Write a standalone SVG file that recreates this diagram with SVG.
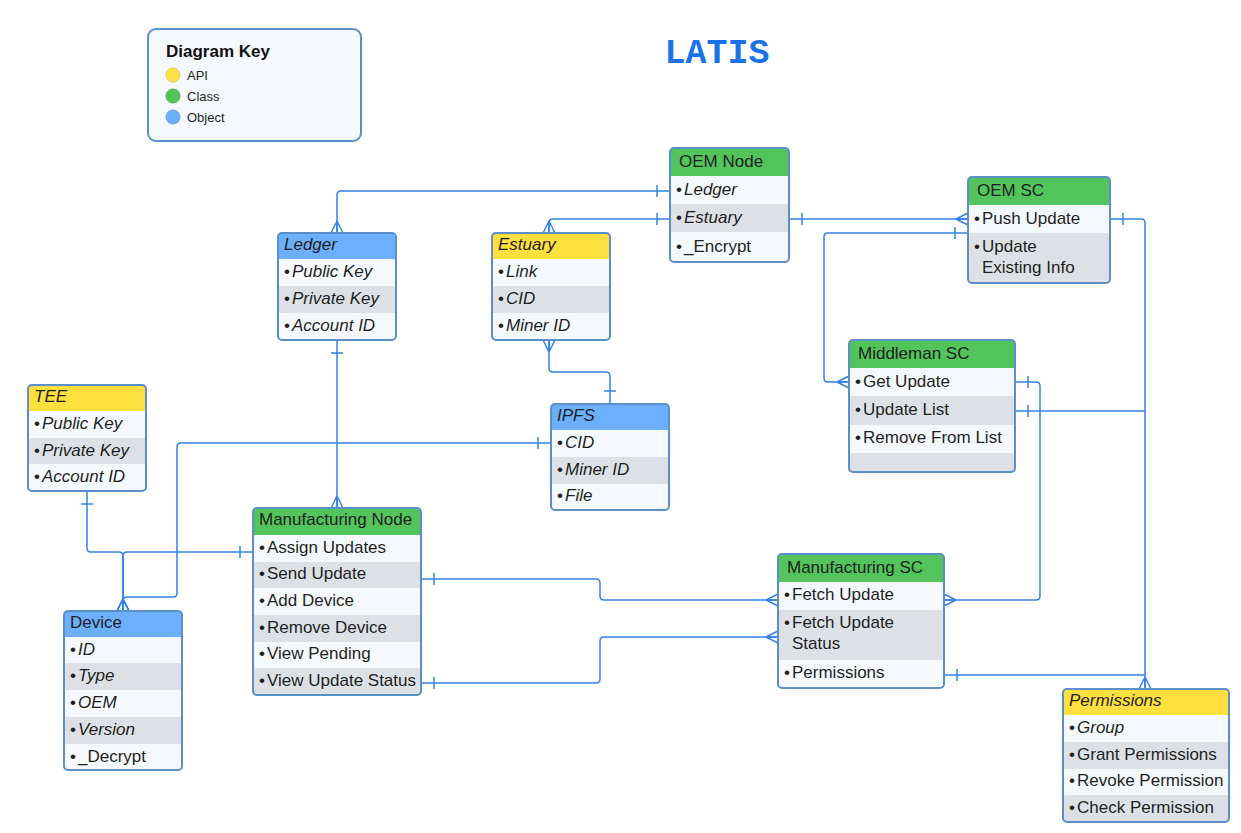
<svg xmlns="http://www.w3.org/2000/svg" width="1241" height="833" viewBox="0 0 1241 833">
<style>
.bg{fill:#ffffff}
.body{fill:#f5f9fd}
.gray{fill:#dde1e5}
.hg{fill:#53c35b}
.hb{fill:#6caffc}
.hy{fill:#ffe03f}
.outline{fill:none;stroke:#5b8fc9;stroke-width:2}
.t{font-family:"Liberation Sans",Arial,sans-serif;font-size:17px;fill:#1f1f1f}
.i{font-style:italic}
.conn{fill:none;stroke:#3282e6;stroke-width:1.5}
.key{font-family:"Liberation Sans",Arial,sans-serif;font-size:13px;fill:#1f1f1f}
</style>
<defs>
<marker id="many" viewBox="-14 -8 16 16" refX="0" refY="0" markerWidth="16" markerHeight="16" markerUnits="userSpaceOnUse" orient="auto-start-reverse"><path d="M-12,0 L0,-6 M-12,0 L0,6 M-12,0 L0,0" fill="none" stroke="#3282e6" stroke-width="1.5"/></marker>
<marker id="one" viewBox="-16 -8 18 16" refX="0" refY="0" markerWidth="18" markerHeight="16" markerUnits="userSpaceOnUse" orient="auto-start-reverse"><path d="M-13,-6 L-13,6" fill="none" stroke="#3282e6" stroke-width="1.5"/></marker>
</defs>
<rect class="bg" x="0" y="0" width="1241" height="833"/>

<g id="key">
<rect x="148" y="29" width="213" height="112" rx="8" fill="#f5f9fd" stroke="#5b8fc9" stroke-width="2"/>
<text x="166" y="57" font-family="Liberation Sans,Arial,sans-serif" font-size="17" font-weight="bold" fill="#111">Diagram Key</text>
<circle cx="173" cy="75" r="7" fill="#ffe04a" stroke="#f0cf3a" stroke-width="1"/>
<circle cx="173" cy="96" r="7" fill="#53c35b" stroke="#4ab352" stroke-width="1"/>
<circle cx="173" cy="117" r="7" fill="#6caffc" stroke="#62a3ee" stroke-width="1"/>
<text class="key" x="187" y="80">API</text>
<text class="key" x="187" y="101">Class</text>
<text class="key" x="187" y="122">Object</text>
</g>

<g id="title">
<text x="717" y="63" text-anchor="middle" font-family="Liberation Mono,monospace" font-size="35" font-weight="bold" fill="#1a73e8">LATIS</text>
</g>

<g id="connectors">
<path class="conn" d="M670,191 H341 Q337,191 337,195 V233" marker-start="url(#one)" marker-end="url(#many)"/>
<path class="conn" d="M670,219 H553 Q549,219 549,223 V233" marker-start="url(#one)" marker-end="url(#many)"/>
<path class="conn" d="M789,219 H968" marker-start="url(#one)" marker-end="url(#many)"/>
<path class="conn" d="M968,233 H828 Q824,233 824,237 V378 Q824,382 828,382 H849" marker-start="url(#one)" marker-end="url(#many)"/>
<path class="conn" d="M1110,219 H1141 Q1145,219 1145,223 V689" marker-start="url(#one)" marker-end="url(#many)"/>
<path class="conn" d="M1015,411 H1145" marker-start="url(#one)"/>
<path class="conn" d="M944,675 H1145" marker-start="url(#one)"/>
<path class="conn" d="M1015,382 H1036 Q1040,382 1040,386 V596 Q1040,600 1036,600 H944" marker-start="url(#one)" marker-end="url(#many)"/>
<path class="conn" d="M421,579 H596 Q600,579 600,583 V596 Q600,600 604,600 H778" marker-start="url(#one)" marker-end="url(#many)"/>
<path class="conn" d="M421,683 H596 Q600,683 600,679 V641 Q600,637 604,637 H778" marker-start="url(#one)" marker-end="url(#many)"/>
<path class="conn" d="M337,340 V508" marker-start="url(#one)" marker-end="url(#many)"/>
<path class="conn" d="M549,340 V368 Q549,372 553,372 H606 Q610,372 610,376 V404" marker-start="url(#many)" marker-end="url(#one)"/>
<path class="conn" d="M551,443 H181 Q177,443 177,447 V593 Q177,597 173,597 H127 Q123,597 123,601 V611" marker-start="url(#one)" marker-end="url(#many)"/>
<path class="conn" d="M87,491 V548 Q87,552 91,552 H119 Q123,552 123,556 V611" marker-start="url(#one)" marker-end="url(#many)"/>
<path class="conn" d="M253,552 H127 Q123,552 123,556 V611" marker-start="url(#one)" marker-end="url(#many)"/>
</g>

<g id="oem-node">
<rect class="body" x="670" y="148" width="119" height="114" rx="4"/>
<path class="hg" d="M670,176 V152 Q670,148 674,148 H785 Q789,148 789,152 V176 Z"/>
<rect class="gray" x="671" y="204" width="117" height="28"/>
<rect class="outline" x="670" y="148" width="119" height="114" rx="4"/>
<text class="t" x="679" y="167">OEM Node</text>
<text class="t" y="195"><tspan x="676">•</tspan><tspan x="684" class="i">Ledger</tspan></text>
<text class="t" y="223"><tspan x="676">•</tspan><tspan x="684" class="i">Estuary</tspan></text>
<text class="t" y="252"><tspan x="676">•</tspan><tspan x="684">_Encrypt</tspan></text>
</g>

<g id="oem-sc">
<rect class="body" x="968" y="177" width="142" height="106" rx="4"/>
<path class="hg" d="M968,205 V181 Q968,177 972,177 H1106 Q1110,177 1110,181 V205 Z"/>
<rect class="gray" x="969" y="233" width="140" height="49" rx="2"/>
<rect class="outline" x="968" y="177" width="142" height="106" rx="4"/>
<text class="t" x="977" y="196">OEM SC</text>
<text class="t" y="224"><tspan x="974">•</tspan><tspan x="982">Push Update</tspan></text>
<text class="t" y="252"><tspan x="974">•</tspan><tspan x="982">Update</tspan></text>
<text class="t" x="982" y="273">Existing Info</text>
</g>

<g id="ledger">
<rect class="body" x="278" y="233" width="118" height="107" rx="4"/>
<path class="hb" d="M278,259 V237 Q278,233 282,233 H392 Q396,233 396,237 V259 Z"/>
<rect class="gray" x="279" y="286" width="116" height="27"/>
<rect class="outline" x="278" y="233" width="118" height="107" rx="4"/>
<text class="t i" x="284" y="250">Ledger</text>
<text class="t" y="277"><tspan x="284">•</tspan><tspan x="292" class="i">Public Key</tspan></text>
<text class="t" y="304"><tspan x="284">•</tspan><tspan x="292" class="i">Private Key</tspan></text>
<text class="t" y="331"><tspan x="284">•</tspan><tspan x="292" class="i">Account ID</tspan></text>
</g>

<g id="estuary">
<rect class="body" x="492" y="233" width="118" height="107" rx="4"/>
<path class="hy" d="M492,259 V237 Q492,233 496,233 H606 Q610,233 610,237 V259 Z"/>
<rect class="gray" x="493" y="286" width="116" height="27"/>
<rect class="outline" x="492" y="233" width="118" height="107" rx="4"/>
<text class="t i" x="498" y="250">Estuary</text>
<text class="t" y="277"><tspan x="498">•</tspan><tspan x="506" class="i">Link</tspan></text>
<text class="t" y="304"><tspan x="498">•</tspan><tspan x="506" class="i">CID</tspan></text>
<text class="t" y="331"><tspan x="498">•</tspan><tspan x="506" class="i">Miner ID</tspan></text>
</g>

<g id="tee">
<rect class="body" x="28" y="385" width="118" height="106" rx="4"/>
<path class="hy" d="M28,411 V389 Q28,385 32,385 H142 Q146,385 146,389 V411 Z"/>
<rect class="gray" x="29" y="438" width="116" height="26"/>
<rect class="outline" x="28" y="385" width="118" height="106" rx="4"/>
<text class="t i" x="34" y="402">TEE</text>
<text class="t" y="429"><tspan x="34">•</tspan><tspan x="42" class="i">Public Key</tspan></text>
<text class="t" y="456"><tspan x="34">•</tspan><tspan x="42" class="i">Private Key</tspan></text>
<text class="t" y="482"><tspan x="34">•</tspan><tspan x="42" class="i">Account ID</tspan></text>
</g>

<g id="ipfs">
<rect class="body" x="551" y="404" width="118" height="106" rx="4"/>
<path class="hb" d="M551,430 V408 Q551,404 555,404 H665 Q669,404 669,408 V430 Z"/>
<rect class="gray" x="552" y="457" width="116" height="27"/>
<rect class="outline" x="551" y="404" width="118" height="106" rx="4"/>
<text class="t i" x="557" y="421">IPFS</text>
<text class="t" y="448"><tspan x="557">•</tspan><tspan x="565" class="i">CID</tspan></text>
<text class="t" y="475"><tspan x="557">•</tspan><tspan x="565" class="i">Miner ID</tspan></text>
<text class="t" y="501"><tspan x="557">•</tspan><tspan x="565" class="i">File</tspan></text>
</g>

<g id="manufacturing-node">
<rect class="body" x="253" y="508" width="168" height="187" rx="4"/>
<path class="hg" d="M253,535 V512 Q253,508 257,508 H417 Q421,508 421,512 V535 Z"/>
<rect class="gray" x="254" y="562" width="166" height="26"/>
<rect class="gray" x="254" y="615" width="166" height="27"/>
<rect class="gray" x="254" y="668" width="166" height="26" rx="2"/>
<rect class="outline" x="253" y="508" width="168" height="187" rx="4"/>
<text class="t" x="259" y="525">Manufacturing Node</text>
<text class="t" y="553"><tspan x="259">•</tspan><tspan x="267">Assign Updates</tspan></text>
<text class="t" y="579"><tspan x="259">•</tspan><tspan x="267">Send Update</tspan></text>
<text class="t" y="606"><tspan x="259">•</tspan><tspan x="267">Add Device</tspan></text>
<text class="t" y="633"><tspan x="259">•</tspan><tspan x="267">Remove Device</tspan></text>
<text class="t" y="659"><tspan x="259">•</tspan><tspan x="267">View Pending</tspan></text>
<text class="t" y="686"><tspan x="259">•</tspan><tspan x="267">View Update Status</tspan></text>
</g>

<g id="device">
<rect class="body" x="64" y="611" width="118" height="159" rx="4"/>
<path class="hb" d="M64,637 V615 Q64,611 68,611 H178 Q182,611 182,615 V637 Z"/>
<rect class="gray" x="65" y="663" width="116" height="27"/>
<rect class="gray" x="65" y="717" width="116" height="27"/>
<rect class="outline" x="64" y="611" width="118" height="159" rx="4"/>
<text class="t" x="70" y="628">Device</text>
<text class="t" y="655"><tspan x="70">•</tspan><tspan x="78" class="i">ID</tspan></text>
<text class="t" y="681"><tspan x="70">•</tspan><tspan x="78" class="i">Type</tspan></text>
<text class="t" y="708"><tspan x="70">•</tspan><tspan x="78" class="i">OEM</tspan></text>
<text class="t" y="735"><tspan x="70">•</tspan><tspan x="78" class="i">Version</tspan></text>
<text class="t" y="762"><tspan x="70">•</tspan><tspan x="78">_Decrypt</tspan></text>
</g>

<g id="middleman-sc">
<rect class="body" x="849" y="340" width="166" height="132" rx="4"/>
<path class="hg" d="M849,368 V344 Q849,340 853,340 H1011 Q1015,340 1015,344 V368 Z"/>
<rect class="gray" x="850" y="396" width="164" height="29"/>
<rect class="gray" x="850" y="453" width="164" height="18" rx="2"/>
<rect class="outline" x="849" y="340" width="166" height="132" rx="4"/>
<text class="t" x="858" y="359">Middleman SC</text>
<text class="t" y="387"><tspan x="855">•</tspan><tspan x="863">Get Update</tspan></text>
<text class="t" y="415"><tspan x="855">•</tspan><tspan x="863">Update List</tspan></text>
<text class="t" y="443"><tspan x="855">•</tspan><tspan x="863">Remove From List</tspan></text>
</g>

<g id="manufacturing-sc">
<rect class="body" x="778" y="554" width="166" height="134" rx="4"/>
<path class="hg" d="M778,582 V558 Q778,554 782,554 H940 Q944,554 944,558 V582 Z"/>
<rect class="gray" x="779" y="610" width="164" height="50"/>
<rect class="outline" x="778" y="554" width="166" height="134" rx="4"/>
<text class="t" x="787" y="573">Manufacturing SC</text>
<text class="t" y="600"><tspan x="784">•</tspan><tspan x="792">Fetch Update</tspan></text>
<text class="t" y="628"><tspan x="784">•</tspan><tspan x="792">Fetch Update</tspan></text>
<text class="t" x="792" y="649">Status</text>
<text class="t" y="678"><tspan x="784">•</tspan><tspan x="792">Permissions</tspan></text>
</g>

<g id="permissions">
<rect class="body" x="1063" y="689" width="166" height="133" rx="4"/>
<path class="hy" d="M1063,715 V693 Q1063,689 1067,689 H1225 Q1229,689 1229,693 V715 Z"/>
<rect class="gray" x="1064" y="742" width="164" height="27"/>
<rect class="gray" x="1064" y="795" width="164" height="26" rx="2"/>
<rect class="outline" x="1063" y="689" width="166" height="133" rx="4"/>
<text class="t i" x="1069" y="706">Permissions</text>
<text class="t" y="733"><tspan x="1069">•</tspan><tspan x="1077" class="i">Group</tspan></text>
<text class="t" y="760"><tspan x="1069">•</tspan><tspan x="1077">Grant Permissions</tspan></text>
<text class="t" y="786"><tspan x="1069">•</tspan><tspan x="1077">Revoke Permission</tspan></text>
<text class="t" y="813"><tspan x="1069">•</tspan><tspan x="1077">Check Permission</tspan></text>
</g>
</svg>
